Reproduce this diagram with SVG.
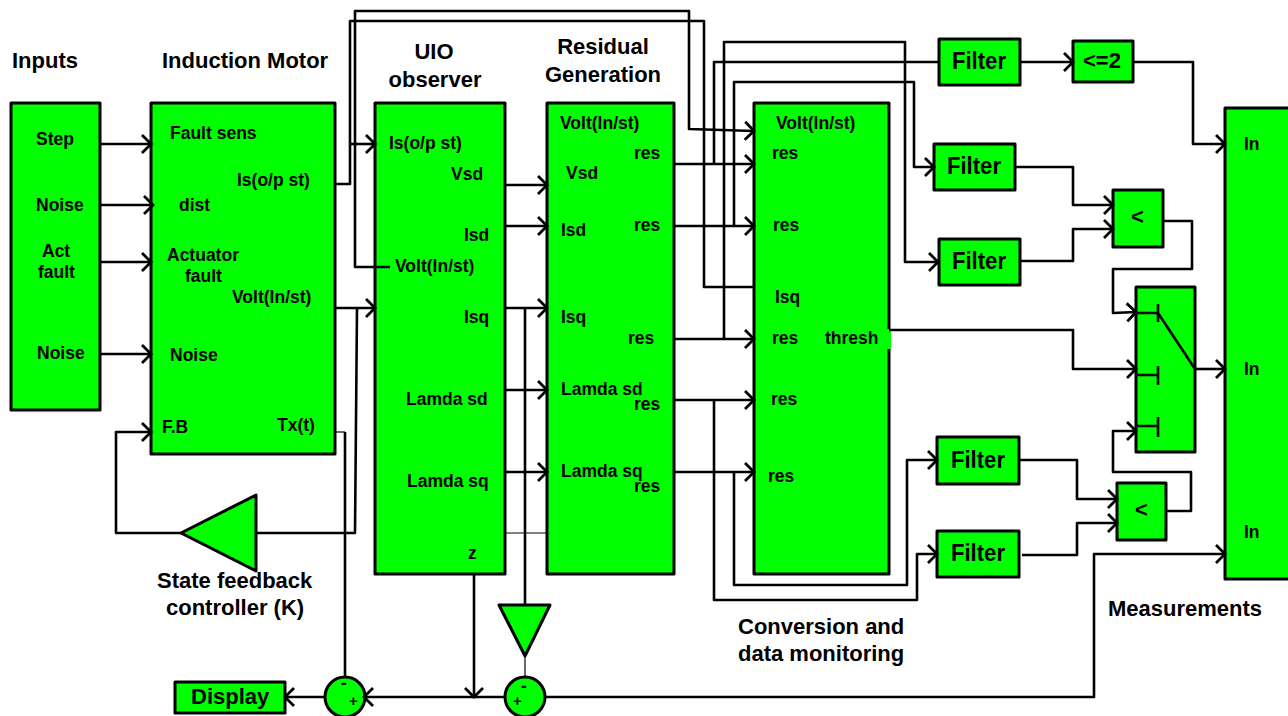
<svg xmlns="http://www.w3.org/2000/svg" width="1288" height="716" viewBox="0 0 1288 716">
<style>
.b{fill:#00ff00;stroke:#000;stroke-width:3;stroke-linejoin:round}
.c path,.k path{fill:none;stroke:#000;stroke-width:2.6;stroke-linejoin:round}
.c .a{marker-end:url(#ah)}
.c .t{stroke-width:1.2}
text{font-family:"Liberation Sans",Arial,sans-serif;font-weight:bold;fill:#000;font-size:17.5px}
.h{font-size:22px}
.f{font-size:24px}
.s{font-size:15px}
</style>
<defs>
<marker id="ah" markerUnits="userSpaceOnUse" markerWidth="24" markerHeight="24" refX="12" refY="12" orient="auto" overflow="visible">
<path d="M3 3L12 12L3 21" fill="none" stroke="#000" stroke-width="2.8"/>
</marker>
</defs>
<rect width="1288" height="716" fill="#fff"/>
<g id="inputs"><rect class="b" x="11" y="103" width="89" height="307"/>
<text x="36" y="145">Step</text><text x="36" y="211">Noise</text><text x="42" y="257">Act</text><text x="38" y="278">fault</text><text x="37" y="359">Noise</text></g>
<g id="motor"><rect class="b" x="151" y="103" width="184" height="351"/>
<text x="170" y="139">Fault sens</text><text x="237" y="186">Is(o/p st)</text><text x="179" y="211">dist</text><text x="167" y="261">Actuator</text><text x="185" y="282">fault</text><text x="232" y="303">Volt(In/st)</text><text x="170" y="361">Noise</text><text x="162" y="433">F.B</text><text x="277" y="431">Tx(t)</text></g>
<g id="uio"><rect class="b" x="375" y="103" width="130" height="471"/>
<text x="389" y="149">Is(o/p st)</text><text x="451" y="180">Vsd</text><text x="464" y="241">Isd</text><text x="395" y="272">Volt(In/st)</text><text x="464" y="323">Isq</text><text x="406" y="405">Lamda sd</text><text x="407" y="487">Lamda sq</text><text x="468" y="559">z</text></g>
<g id="residual"><rect class="b" x="547" y="103" width="127" height="471"/>
<text x="560" y="129">Volt(In/st)</text><text x="634" y="159">res</text><text x="566" y="179">Vsd</text><text x="561" y="236">Isd</text><text x="634" y="231">res</text><text x="561" y="323">Isq</text><text x="628" y="344">res</text><text x="561" y="395">Lamda sd</text><text x="634" y="410">res</text><text x="561" y="477">Lamda sq</text><text x="634" y="492">res</text></g>
<g id="conversion"><rect class="b" x="754" y="103" width="135" height="471"/><rect x="887" y="329" width="4" height="20" fill="#00ff00"/>
<text x="776" y="129">Volt(In/st)</text><text x="772" y="159">res</text><text x="773" y="231">res</text><text x="775" y="303">Isq</text><text x="772" y="344">res</text><text x="825" y="344">thresh</text><text x="771" y="405">res</text><text x="768" y="482">res</text></g>
<g id="filter1"><rect class="b" x="939" y="39" width="81" height="46"/><text class="f" x="952" y="69" textLength="54" lengthAdjust="spacingAndGlyphs">Filter</text></g>
<g id="filter2"><rect class="b" x="934" y="144" width="81" height="46"/><text class="f" x="947" y="174" textLength="54" lengthAdjust="spacingAndGlyphs">Filter</text></g>
<g id="filter3"><rect class="b" x="939" y="239" width="81" height="46"/><text class="f" x="952" y="269" textLength="54" lengthAdjust="spacingAndGlyphs">Filter</text></g>
<g id="filter4"><rect class="b" x="937" y="437" width="82" height="47"/><text class="f" x="951" y="468" textLength="54" lengthAdjust="spacingAndGlyphs">Filter</text></g>
<g id="filter5"><rect class="b" x="937" y="531" width="82" height="46"/><text class="f" x="951" y="561" textLength="54" lengthAdjust="spacingAndGlyphs">Filter</text></g>
<g id="limit"><rect class="b" x="1073" y="41" width="60" height="41"/><text class="h" x="1083" y="68">&lt;=2</text></g>
<g id="compare1"><rect class="b" x="1113" y="190" width="50" height="57"/><text class="h" x="1131" y="224">&lt;</text></g>
<g id="compare2"><rect class="b" x="1117" y="483" width="49" height="57"/><text class="h" x="1135" y="517">&lt;</text></g>
<g id="switch" class="k"><rect class="b" x="1136" y="287" width="59" height="165"/>
<path d="M1136 313H1158M1158 304V322M1136 375H1158M1158 366V385M1136 426H1158M1158 417V437M1158 313L1195 369"/></g>
<g id="measurements"><rect class="b" x="1225" y="108" width="70" height="471"/>
<text x="1244" y="150">In</text><text x="1244" y="375">In</text><text x="1244" y="538">In</text></g>
<g id="controller"><path class="b" d="M181 533L256 495V571Z"/></g>
<g id="gain"><path class="b" d="M499 605H550L525 656Z"/></g>
<g id="sum1"><ellipse class="b" cx="345" cy="697" rx="20" ry="20"/><text x="341" y="689">-</text><text class="s" x="349" y="706">+</text></g>
<g id="sum2"><ellipse class="b" cx="525" cy="697" rx="20" ry="20"/><text x="521" y="692">-</text><text class="s" x="513" y="706">+</text></g>
<g id="display"><rect class="b" x="175" y="682" width="110" height="31"/><text class="h" x="191" y="704">Display</text></g>
<g id="labels">
<text class="h" x="12" y="68">Inputs</text>
<text class="h" x="162" y="68">Induction Motor</text>
<text class="h" x="434" y="59" text-anchor="middle">UIO</text>
<text class="h" x="435" y="87" text-anchor="middle">observer</text>
<text class="h" x="603" y="54" text-anchor="middle">Residual</text>
<text class="h" x="603" y="82" text-anchor="middle">Generation</text>
<text class="h" x="157" y="588">State feedback</text>
<text class="h" x="166" y="615">controller (K)</text>
<text class="h" x="738" y="634">Conversion and</text>
<text class="h" x="738" y="661">data monitoring</text>
<text class="h" x="1108" y="616">Measurements</text>
</g>
<g id="connectors" class="c">
<path class="a" d="M100 144H151"/>
<path class="a" d="M100 205H153"/>
<path class="a" d="M100 262H151"/>
<path class="a" d="M100 354H151"/>
<path d="M335 184H350V21H704V287H754"/>
<path class="a" d="M390 267H355V11H689V129L754 131"/>
<path class="a" d="M350 144H375"/>
<path class="a" d="M335 308H375"/>
<path d="M357 308L355 533H256"/>
<path class="a" d="M181 533H116V432H151"/>
<path class="t" d="M335 432H345"/>
<path d="M345 432V677"/>
<path class="a" d="M325 697H285"/>
<path class="a" d="M505 697H364"/>
<path class="a" d="M474 574V697"/>
<path class="a" d="M545 697H1094V554H1225"/>
<path d="M525 308V605"/>
<path class="t" d="M525 655V677"/>
<path class="a" d="M505 185H547"/>
<path class="a" d="M505 226H547"/>
<path class="a" d="M505 308H547"/>
<path class="a" d="M505 390H547"/>
<path class="a" d="M505 472H547"/>
<path class="t" d="M505 533H547"/>
<path class="a" d="M674 164H754"/>
<path class="a" d="M674 226H754"/>
<path class="a" d="M674 339H754"/>
<path class="a" d="M674 400H754"/>
<path class="a" d="M674 472H754"/>
<path d="M714 164V62H938"/>
<path class="a" d="M734 226V82H914V167H934"/>
<path class="a" d="M724 339V42H905V262H938"/>
<path class="a" d="M734 472V585H907V460H937"/>
<path class="a" d="M714 400V600H917V554H937"/>
<path class="a" d="M889 330H1073V369H1136"/>
<path class="a" d="M1020 62H1073"/>
<path class="a" d="M1133 62H1193V144H1225"/>
<path class="a" d="M1015 167H1073V205H1113"/>
<path class="a" d="M1020 261H1073V229H1113"/>
<path class="a" d="M1163 221H1192V269H1113V313L1136 312"/>
<path class="a" d="M1195 369H1225"/>
<path class="a" d="M1019 460H1077V499H1117"/>
<path class="a" d="M1022 555H1077V523H1117"/>
<path class="a" d="M1166 511H1191V472H1113V431H1136"/>
</g>
</svg>
